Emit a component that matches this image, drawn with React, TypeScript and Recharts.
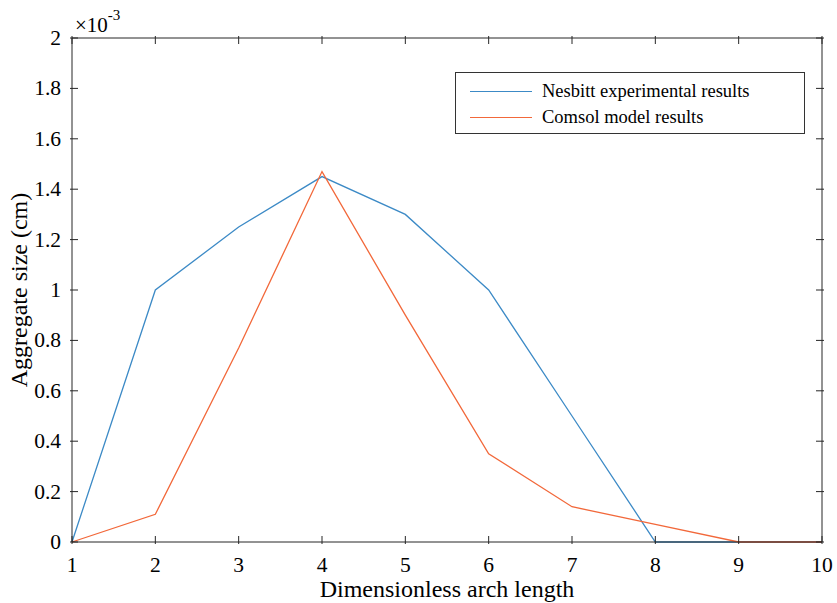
import React from 'react';
import { LineChart, Line, XAxis, YAxis, Legend } from 'recharts';

// values in units of 1e-3 cm
const arcLength = [1, 2, 3, 4, 5, 6, 7, 8, 9, 10];
const nesbitt = [0, 1.0, 1.25, 1.45, 1.3, 1.0, 0.5, 0, 0, 0];
const comsol = [0, 0.11, 0.77, 1.47, 0.9, 0.35, 0.14, 0.07, 0, 0];
const xTicks = [1, 2, 3, 4, 5, 6, 7, 8, 9, 10];
const yTicks = [0, 0.2, 0.4, 0.6, 0.8, 1, 1.2, 1.4, 1.6, 1.8, 2];

const data = arcLength.map((x, i) => ({ x, nesbitt: nesbitt[i], comsol: comsol[i] }));

const FONT = '"Liberation Serif", "Times New Roman", serif';
const AXIS = '#262626';
const BLUE = '#3c8ac6';
const ORANGE = '#f2683a';

const BottomTick = (props: any) => {
  const { x, y, payload } = props;
  return (
    <g>
      <line x1={x} y1={y} x2={x} y2={y - 8} stroke={AXIS} />
      <text x={x} y={y + 28} textAnchor="middle" fontFamily={FONT} fontSize={21.5} fill="#000">
        {payload.value}
      </text>
    </g>
  );
};

const TopTick = (props: any) => {
  const { x, y } = props;
  return <line x1={x} y1={y} x2={x} y2={y + 8} stroke={AXIS} />;
};

const LeftTick = (props: any) => {
  const { x, y, payload } = props;
  return (
    <g>
      <line x1={x} y1={y} x2={x + 8} y2={y} stroke={AXIS} />
      <text x={x - 9} y={y + 7} textAnchor="end" fontFamily={FONT} fontSize={21.5} fill="#000">
        {payload.value}
      </text>
    </g>
  );
};

const RightTick = (props: any) => {
  const { x, y } = props;
  return <line x1={x} y1={y} x2={x - 8} y2={y} stroke={AXIS} />;
};

const ExpLabel = () => (
  <text x={75} y={32} fontFamily={FONT} fontSize={21} fill="#000">
    ×10
    <tspan dy={-12} fontSize={15}>-3</tspan>
  </text>
);

const order = ['nesbitt', 'comsol'];
const names: Record<string, string> = {
  nesbitt: 'Nesbitt experimental results',
  comsol: 'Comsol model results',
};

const LegendBox = (props: any) => {
  const items = [...(props.payload || [])].sort(
    (a: any, b: any) => order.indexOf(a.dataKey) - order.indexOf(b.dataKey)
  );
  return (
    <div
      style={{
        width: 350,
        height: 62,
        border: '1px solid #333',
        background: '#fff',
        boxSizing: 'border-box',
        fontFamily: FONT,
        fontSize: 18.5,
        paddingTop: 5,
      }}
    >
      {items.map((p: any) => (
        <div key={p.dataKey} style={{ display: 'flex', alignItems: 'center', height: 26 }}>
          <div style={{ width: 62, height: 0, borderTop: `1.5px solid ${p.color}`, marginLeft: 14, marginRight: 10 }} />
          <span>{names[p.dataKey]}</span>
        </div>
      ))}
    </div>
  );
};

export default function App() {
  return (
    <div style={{ position: 'absolute', left: 0, top: 0, background: '#fff' }}>
      <LineChart width={837} height={603} data={data} margin={{ top: 37, right: 0, bottom: 0, left: 0 }}>
        <XAxis
          dataKey="x"
          type="number"
          domain={[1, 10]}
          ticks={xTicks}
          stroke={AXIS}
          tickLine={false}
          tickSize={0}
          tick={<BottomTick />}
          height={61}
          interval={0}
          label={{
            value: 'Dimensionless arch length',
            position: 'insideBottom',
            offset: 6,
            style: { fontFamily: FONT, fontSize: 24, fill: '#000' },
          }}
        />
        <XAxis
          xAxisId="top"
          dataKey="x"
          orientation="top"
          type="number"
          domain={[1, 10]}
          ticks={xTicks}
          stroke={AXIS}
          tickLine={false}
          tickSize={0}
          tick={<TopTick />}
          height={1}
          interval={0}
          label={<ExpLabel />}
        />
        <YAxis
          type="number"
          domain={[0, 2]}
          ticks={yTicks}
          stroke={AXIS}
          tickLine={false}
          tickSize={0}
          tick={<LeftTick />}
          width={72}
          interval={0}
          label={{
            value: 'Aggregate size (cm)',
            angle: -90,
            position: 'insideLeft',
            offset: 18,
            style: { textAnchor: 'middle', fontFamily: FONT, fontSize: 24, fill: '#000' },
          }}
        />
        <YAxis
          yAxisId="right"
          orientation="right"
          type="number"
          domain={[0, 2]}
          ticks={yTicks}
          stroke={AXIS}
          tickLine={false}
          tickSize={0}
          tick={<RightTick />}
          width={15}
          interval={0}
        />
        <Legend
          layout="horizontal"
          verticalAlign="middle"
          align="center"
          content={<LegendBox />}
          wrapperStyle={{ position: 'absolute', left: 455, top: 72, width: 350, height: 62 }}
        />
        <Line
          type="linear"
          dataKey="nesbitt"
          xAxisId="top"
          yAxisId="right"
          stroke={BLUE}
          strokeWidth={1.3}
          dot={false}
          isAnimationActive={false}
        />
        <Line type="linear" dataKey="comsol" stroke={ORANGE} strokeWidth={1.3} dot={false} isAnimationActive={false} />
      </LineChart>
    </div>
  );
}
